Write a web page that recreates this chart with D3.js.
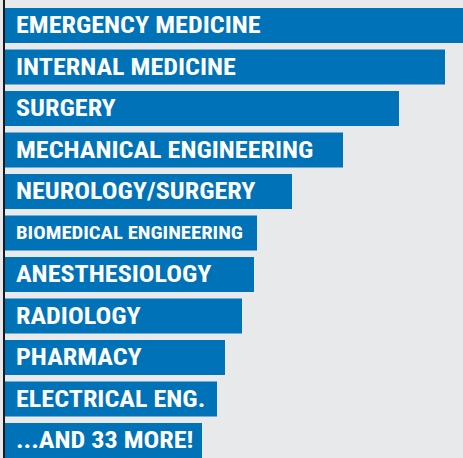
<!DOCTYPE html>
<html><head><meta charset="utf-8">
<script src="https://cdn.jsdelivr.net/npm/d3@7"></script>
<style>html,body{margin:0;padding:0;background:#e8e9eb;overflow:hidden}</style>
</head><body>
<svg id="c" width="463" height="458"></svg>
<script>
const categories = ["EMERGENCY MEDICINE","INTERNAL MEDICINE","SURGERY","MECHANICAL ENGINEERING","NEUROLOGY/SURGERY","BIOMEDICAL ENGINEERING","ANESTHESIOLOGY","RADIOLOGY","PHARMACY","ELECTRICAL ENG.","...AND 33 MORE!"];
const values = [462,440,394,338,287,252,249,237,220,212,197];
const labelSizes = [24,24,24,24,24,19,24,24,24,24,24];

const svg = d3.select("#c");
svg.append("rect").attr("width",463).attr("height",458).attr("fill","#e8e9eb");
const x = d3.scaleLinear().domain([0,460]).range([5,465]);
const y = d3.scaleBand().domain(categories).range([8,458]).paddingInner(0.1566).paddingOuter(0);
const data = categories.map((c,i)=>({c,v:values[i],s:labelSizes[i]}));
const g = svg.append("g");
g.selectAll("rect.bar").data(data).join("rect").attr("class","bar")
 .attr("x",x(0)).attr("y",d=>y(d.c)).attr("width",d=>x(d.v)-x(0)).attr("height",y.bandwidth())
 .attr("fill","#0073b8");
g.selectAll("text").data(data).join("text")
 .attr("transform",d=>`translate(16,${y(d.c)+y.bandwidth()/2}) scale(1.09,1)`)
 .attr("dy","0.325em")
 .attr("fill","#fff").attr("font-family","'Liberation Sans Narrow','Roboto Condensed',Roboto,sans-serif")
 .attr("font-weight","bold").attr("font-size",d=>d.s+"px").text(d=>d.c);
svg.append("line").attr("x1",4).attr("x2",4).attr("y1",0).attr("y2",458).attr("stroke","#1a1a1a").attr("stroke-width",2);
</script>
</body></html>
